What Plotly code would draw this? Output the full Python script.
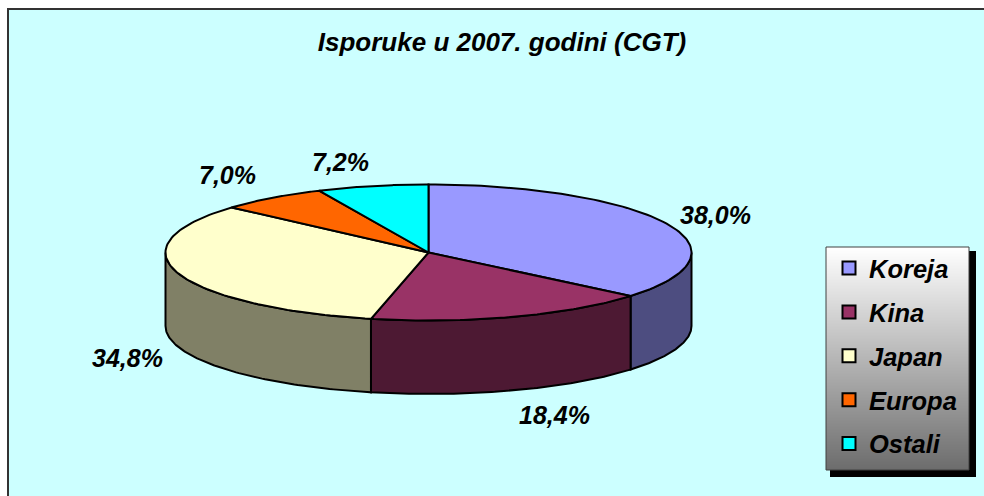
import math
import plotly.graph_objects as go

# ---- data ----
categories = ["Koreja", "Kina", "Japan", "Europa", "Ostali"]
values = [38.0, 18.4, 34.8, 7.0, 7.2]
value_labels = ["38,0%", "18,4%", "34,8%", "7,0%", "7,2%"]
top_colors = ["#9999FF", "#993366", "#FFFFCC", "#FF6600", "#00FFFF"]
side_colors = ["#4D4D80", "#4D1933", "#808066", "#803300", "#008080"]
title_text = "Isporuke u 2007. godini (CGT)"

# ---- geometry / style ----
W, H = 984, 496
CX, CY, RX, RY, DEPTH = 428.5, 252.5, 263, 68, 73.5
label_shift = [(49, -9), (41, 98), (-51, 85), (-44, -23), (-32, -24)]
FONT = "Liberation Sans"


def pt(t, dy=0.0):
    return CX + RX * math.sin(t), CY - RY * math.cos(t) + dy


def arc(a, b, dy=0.0, n=90):
    return [pt(a + (b - a) * i / n, dy) for i in range(n + 1)]


total = sum(values)
edges = [0.0]
for v in values:
    edges.append(edges[-1] + v / total * 2 * math.pi)

fig = go.Figure()

# side walls (only the front half, t in [pi/2, 3pi/2], is visible)
for i in range(len(values)):
    a, b = max(edges[i], math.pi / 2), min(edges[i + 1], 3 * math.pi / 2)
    if a >= b:
        continue
    upper, lower = arc(a, b), arc(a, b, DEPTH)
    poly = upper + lower[::-1] + upper[:1]
    fig.add_trace(go.Scatter(
        x=[p[0] for p in poly], y=[p[1] for p in poly], mode="lines",
        fill="toself", fillcolor=side_colors[i],
        line=dict(color="black", width=2), showlegend=False, hoverinfo="skip"))

# top faces
for i in range(len(values)):
    poly = [(CX, CY)] + arc(edges[i], edges[i + 1]) + [(CX, CY)]
    fig.add_trace(go.Scatter(
        x=[p[0] for p in poly], y=[p[1] for p in poly], mode="lines",
        fill="toself", fillcolor=top_colors[i],
        line=dict(color="black", width=2), showlegend=False,
        name=categories[i], hoverinfo="skip"))

# legend entries
for i, c in enumerate(categories):
    fig.add_trace(go.Scatter(
        x=[None], y=[None], mode="markers", name=c, legendgroup=c,
        marker=dict(symbol="square", size=13, color=top_colors[i],
                    line=dict(color="black", width=2))))

# background panel (runs off the right and bottom edges), legend shadow and gradient
shapes = [
    dict(type="rect", x0=8, y0=9, x1=W + 10, y1=H + 10, fillcolor="#CCFFFF",
         line=dict(color="#333333", width=2), layer="below"),
    dict(type="rect", x0=830, y0=251, x1=976, y1=477, fillcolor="black",
         line=dict(width=0), layer="below"),
]
LX0, LY0, LX1, LY1 = 826, 247, 969, 470
for y in range(LY0, LY1):
    f = (y - LY0) / (LY1 - LY0)
    g = round(255 - f * (255 - 108))
    shapes.append(dict(type="rect", x0=LX0, x1=LX1, y0=y, y1=y + 1,
                       fillcolor=f"rgb({g},{g},{g})", line=dict(width=0),
                       layer="below"))
shapes.append(dict(type="rect", x0=LX0, y0=LY0, x1=LX1, y1=LY1,
                   line=dict(color="#404040", width=1), layer="below"))

# value labels
annotations = []
for i, lab in enumerate(value_labels):
    x, y = pt((edges[i] + edges[i + 1]) / 2)
    annotations.append(dict(
        x=x, y=y, text=lab, showarrow=False, xanchor="center", yanchor="middle",
        xshift=label_shift[i][0], yshift=-label_shift[i][1],
        font=dict(family=FONT, size=25, color="black", weight=700, style="italic")))

fig.update_layout(
    width=W, height=H, autosize=False,
    margin=dict(l=0, r=0, t=0, b=0, pad=0),
    paper_bgcolor="white", plot_bgcolor="rgba(0,0,0,0)",
    xaxis=dict(range=[0, W], visible=False, fixedrange=True),
    yaxis=dict(range=[H, 0], visible=False, fixedrange=True),
    shapes=shapes, annotations=annotations,
    title=dict(text=title_text, x=502 / W, xanchor="center", xref="paper",
               y=1 - 42 / H, yanchor="middle", yref="container",
               font=dict(family=FONT, size=26, color="black", weight=700, style="italic")),
    legend=dict(x=829 / W, xanchor="left", y=1 - 245 / H, yanchor="top",
                bgcolor="rgba(0,0,0,0)", borderwidth=0, tracegroupgap=7.7,
                font=dict(family=FONT, size=25.5, color="black", weight=700, style="italic")),
)

fig.write_html("out.html", config={"displayModeBar": False},
               post_script="document.body.style.margin='0';document.body.style.overflow='hidden';")
